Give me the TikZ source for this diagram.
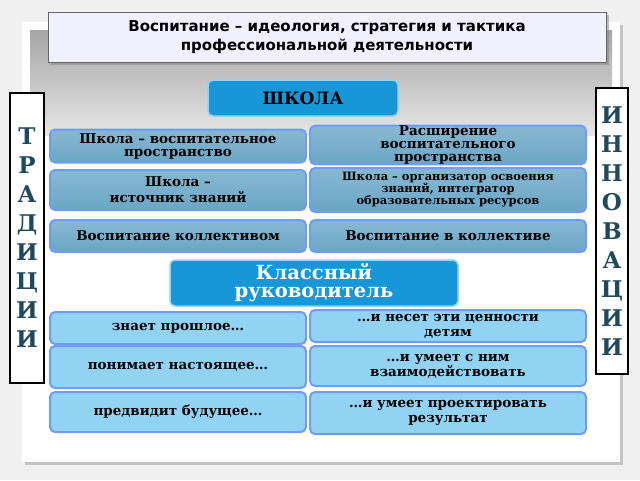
\documentclass[tikz,border=0pt]{standalone}
\usepackage{fontspec}
\setmainfont{DejaVu Serif}
\setsansfont{DejaVu Sans}
\usetikzlibrary{positioning,shadows}
\definecolor{steel}{HTML}{6AA6C6}
\definecolor{rim}{HTML}{6E9CF8}
\definecolor{paleblue}{HTML}{92D2F2}
\definecolor{headblue}{HTML}{1796D8}
\definecolor{letters}{HTML}{1F4A5C}
\tikzset{
  rowbox/.style={draw=rim, line width=2pt, rounded corners=5pt, top color=steel!80!white, bottom color=steel,
    font=\bfseries\fontsize{13.5}{13}\selectfont, align=center, inner sep=0pt},
  lowbox/.style={draw=rim, line width=2pt, rounded corners=5pt, fill=paleblue,
    font=\bfseries\fontsize{13.5}{15}\selectfont, align=center, inner sep=0pt},
  headbox/.style={draw=paleblue, line width=1.5pt, rounded corners=5pt, fill=headblue, text=white,
    font=\bfseries, align=center, inner sep=0pt},
  sidebox/.style={draw=black, line width=2pt, fill=white, text=letters,
    font=\bfseries\fontsize{23}{29}\selectfont, align=center, inner sep=0pt}
}
\begin{document}
\begin{tikzpicture}[x=1pt,y=-1pt]
\useasboundingbox (0,0) rectangle (640,480);
\fill[gray!12] (0,0) rectangle (640,480);
% panel
\fill[white, drop shadow={opacity=0.4}] (22,22) rectangle (620,462);
\shade[top color=gray!70, bottom color=gray!20] (30,30) rectangle (612,135);
% title
\node[draw=gray!80!black, line width=1pt, fill=blue!6, minimum width=558pt, minimum height=50pt,
  align=center, font=\sffamily\bfseries\fontsize{15}{19}\selectfont, drop shadow] (title) at (327,37)
  {Воспитание – идеология, стратегия и тактика\\профессиональной деятельности};
% headers
\node[headbox, minimum width=190pt, minimum height=36pt, text=black, font=\bfseries\fontsize{17}{18}\selectfont] (school) at (303,98) {ШКОЛА};
\node[headbox, minimum width=288pt, minimum height=46pt, font=\bfseries\fontsize{19.5}{18}\selectfont] (teacher) at (314,283) {Классный\\руководитель};
% sides
\node[sidebox, minimum width=34pt, minimum height=290pt] (trad) at (27,238) {Т\\Р\\А\\Д\\И\\Ц\\И\\И};
\node[sidebox, minimum width=32pt, minimum height=286pt] (innov) at (612,231) {И\\Н\\Н\\О\\В\\А\\Ц\\И\\И};
% school rows
\node[rowbox, minimum width=256pt, minimum height=33pt] (l1) at (178,146) {Школа – воспитательное\\пространство};
\node[rowbox, minimum width=276pt, minimum height=34pt] (r1) at (448,145) {Расширение\\воспитательного\\пространства};
\node[rowbox, minimum width=256pt, minimum height=40pt, font=\bfseries\fontsize{13.5}{16}\selectfont] (l2) at (178,190) {Школа –\\источник знаний};
\node[rowbox, minimum width=276pt, minimum height=44pt, font=\bfseries\fontsize{11.5}{12}\selectfont] (r2) at (448,190) {Школа – организатор освоения\\знаний, интегратор\\образовательных ресурсов};
\node[rowbox, minimum width=256pt, minimum height=32pt] (l3) at (178,236) {Воспитание коллективом};
\node[rowbox, minimum width=276pt, minimum height=32pt] (r3) at (448,236) {Воспитание в коллективе};
% teacher rows
\node[lowbox, minimum width=256pt, minimum height=32pt] (k1) at (178,328) {знает прошлое…};
\node[lowbox, minimum width=276pt, minimum height=32pt] (n1) at (448,326) {…и несет эти ценности\\детям};
\node[lowbox, minimum width=256pt, minimum height=42pt] (k2) at (178,367) {понимает настоящее…};
\node[lowbox, minimum width=276pt, minimum height=40pt] (n2) at (448,366) {…и умеет с ним\\взаимодействовать};
\node[lowbox, minimum width=256pt, minimum height=40pt] (k3) at (178,412) {предвидит будущее…};
\node[lowbox, minimum width=276pt, minimum height=42pt] (n3) at (448,413) {…и умеет проектировать\\результат};
\end{tikzpicture}
\end{document}
